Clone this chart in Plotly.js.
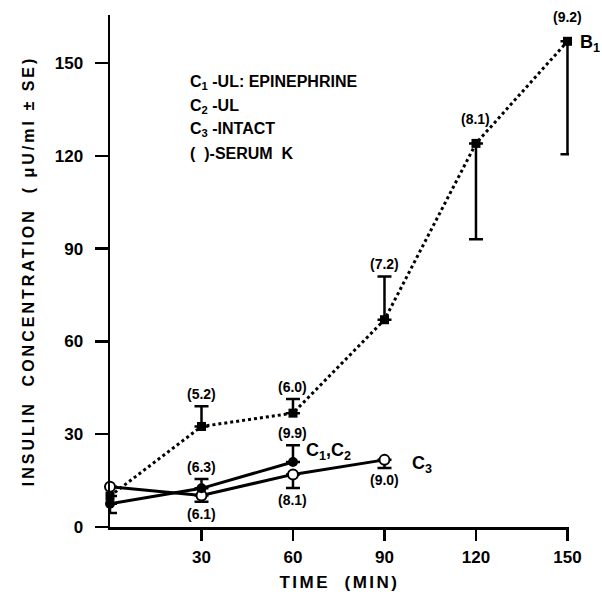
<!DOCTYPE html>
<html>
<head>
<meta charset="utf-8">
<script src="https://cdn.plot.ly/plotly-3.0.1.min.js"></script>
<style>
html,body{margin:0;padding:0;background:#fff;}
#chart{width:602px;height:597px;}
#chart .ytitle{letter-spacing:3px;}
#chart .xtitle{letter-spacing:2.5px;}
</style>
</head>
<body>
<div id="chart"></div>
<script>
// ---- data ----
var timeB1 = [0, 30, 60, 90, 120, 150];
var insulinB1 = [10, 32.5, 36.8, 67, 124, 157];
var errUpB1 = [0, 6.5, 4.6, 14, 0, 0];
var errDownB1 = [0, 0, 0, 0, 31, 36.5];
var serumKB1 = ['', '(5.2)', '(6.0)', '(7.2)', '(8.1)', '(9.2)'];

var timeC12 = [0, 30, 60];
var insulinC12 = [7.5, 12.5, 21];
var errUpC12 = [0, 3, 5.4];
var errDownC12 = [3, 0, 0];
var serumKC12 = ['', '(6.3)', '(9.9)'];

var timeC3 = [0, 30, 60, 90];
var insulinC3 = [13, 10.2, 17, 21.7];
var errUpC3 = [0, 0, 0, 0];
var errDownC3 = [0, 2, 4.4, 2.6];
var serumKC3 = ['', '(6.1)', '(8.1)', '(9.0)'];

var xTicks = [30, 60, 90, 120, 150];
var yTicks = [0, 30, 60, 90, 120, 150];

var legendLines = [
  'C<sub>1</sub> -UL: EPINEPHRINE',
  'C<sub>2</sub> -UL',
  'C<sub>3</sub> -INTACT',
  '(  )-SERUM  K'
];

// ---- styling ----
var FONT = 'Liberation Sans, Arial, sans-serif';
var black = '#000';

function errBar(up, down) {
  return {type: 'data', symmetric: false, array: up, arrayminus: down,
          color: black, thickness: 2.5, width: 7};
}

var traces = [
  {
    x: timeB1, y: insulinB1, mode: 'lines+markers', cliponaxis: false,
    line: {color: black, width: 3, dash: 'dot'},
    marker: {symbol: 'square', size: 9, color: black},
    error_y: errBar(errUpB1, errDownB1)
  },
  {
    x: timeC3, y: insulinC3, mode: 'lines+markers', cliponaxis: false,
    line: {color: black, width: 3},
    marker: {symbol: 'circle', size: 10, color: '#fff', line: {color: black, width: 2}},
    error_y: errBar(errUpC3, errDownC3)
  },
  {
    x: timeC12, y: insulinC12, mode: 'lines+markers', cliponaxis: false,
    line: {color: black, width: 3},
    marker: {symbol: 'circle', size: 10, color: black},
    error_y: errBar(errUpC12, errDownC12)
  }
];

var annFont = {family: FONT, size: 14, color: black, weight: 'bold'};
var annotations = [];

function addAbove(xs, ys, up, labels) {
  for (var i = 0; i < xs.length; i++) {
    if (!labels[i]) continue;
    var hasBar = up[i] > 0;
    annotations.push({x: xs[i], y: ys[i] + up[i], xref: 'x', yref: 'y', text: labels[i],
      showarrow: false, yanchor: 'bottom', yshift: hasBar ? 2 : 14, font: annFont});
  }
}
function addBelow(xs, ys, down, labels) {
  for (var i = 0; i < xs.length; i++) {
    if (!labels[i]) continue;
    annotations.push({x: xs[i], y: ys[i] - down[i], xref: 'x', yref: 'y', text: labels[i],
      showarrow: false, yanchor: 'top', yshift: -2, font: annFont});
  }
}
addAbove(timeB1, insulinB1, errUpB1, serumKB1);
addAbove(timeC12, insulinC12, errUpC12, serumKC12);
addBelow(timeC3, insulinC3, errDownC3, serumKC3);

var seriesFont = {family: FONT, size: 18, color: black, weight: 'bold'};
var nB = timeB1.length - 1, nC12 = timeC12.length - 1, nC3 = timeC3.length - 1;
annotations.push({x: timeB1[nB], y: insulinB1[nB], xref: 'x', yref: 'y', text: 'B<sub>1</sub>',
  showarrow: false, xanchor: 'left', xshift: 11, yshift: -2, font: seriesFont});
annotations.push({x: timeC12[nC12], y: insulinC12[nC12] + errUpC12[nC12], xref: 'x', yref: 'y',
  text: 'C<sub>1</sub>,C<sub>2</sub>', showarrow: false, xanchor: 'left', xshift: 11, yshift: -6, font: seriesFont});
annotations.push({x: timeC3[nC3], y: insulinC3[nC3], xref: 'x', yref: 'y', text: 'C<sub>3</sub>',
  showarrow: false, xanchor: 'left', xshift: 26, yshift: -5, font: seriesFont});

var legendFont = {family: FONT, size: 16, color: black, weight: 'bold'};
for (var k = 0; k < legendLines.length; k++) {
  annotations.push({x: 0.17, y: 0.868 - k * 0.046, xref: 'paper', yref: 'paper',
    text: legendLines[k], showarrow: false, xanchor: 'left', yanchor: 'middle',
    font: legendFont});
}

var tickFont = {family: FONT, size: 17, color: black, weight: 'bold'};
var layout = {
  width: 602, height: 597,
  margin: {l: 110, r: 33, t: 15, b: 70},
  paper_bgcolor: '#fff', plot_bgcolor: '#fff',
  showlegend: false,
  xaxis: {
    range: [0, 150.5], tickvals: xTicks, ticks: 'outside', ticklen: 11, tickwidth: 2.5,
    tickcolor: black, showline: true, linecolor: black, linewidth: 2.5,
    showgrid: false, zeroline: false, tickfont: tickFont, ticklabelstandoff: 2,
    title: {text: 'TIME  (MIN)', font: {family: FONT, size: 17, color: black, weight: 'bold'}, standoff: 10},
    automargin: false
  },
  yaxis: {
    range: [0, 165.5], tickvals: yTicks, ticks: 'outside', ticklen: 13, tickwidth: 2.5,
    tickcolor: black, showline: true, linecolor: black, linewidth: 2.5,
    showgrid: false, zeroline: false, tickfont: tickFont, ticklabelstandoff: 8,
    title: {text: 'INSULIN  CONCENTRATION  ( \u03BCU/ml \u00B1 SE)', font: {family: FONT, size: 16, color: black, weight: 'bold'}, standoff: 16},
    automargin: false
  },
  annotations: annotations
};

Plotly.newPlot('chart', traces, layout, {displayModeBar: false, staticPlot: true});
</script>
</body>
</html>
